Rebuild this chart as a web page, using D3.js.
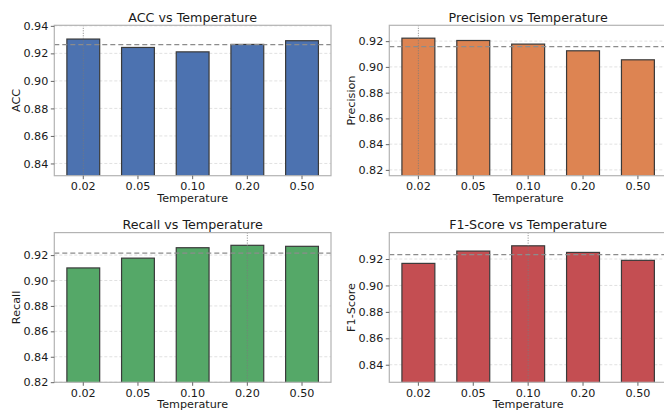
<!DOCTYPE html>
<html>
<head>
<meta charset="utf-8">
<script src="https://cdn.jsdelivr.net/npm/d3@7"></script>
<style>
  html, body { margin: 0; padding: 0; background: #ffffff; }
  svg { display: block; font-family: "DejaVu Sans", sans-serif; }
</style>
</head>
<body>
<svg id="chart" width="664" height="412"></svg>
<script>
// ---- data ----
const temperatures = ["0.02", "0.05", "0.10", "0.20", "0.50"];
const accValues = [0.9304, 0.9243, 0.9211, 0.9265, 0.9292];
const precisionValues = [0.9223, 0.9205, 0.9177, 0.9125, 0.9055];
const recallValues = [0.9099, 0.9176, 0.9258, 0.9277, 0.9269];
const f1Values = [0.9167, 0.9260, 0.9300, 0.9250, 0.9190];
const accTicks = [0.84, 0.86, 0.88, 0.90, 0.92, 0.94];
const precisionTicks = [0.82, 0.84, 0.86, 0.88, 0.90, 0.92];
const recallTicks = [0.82, 0.84, 0.86, 0.88, 0.90, 0.92];
const f1Ticks = [0.84, 0.86, 0.88, 0.90, 0.92];
const metricNames = ["ACC", "Precision", "Recall", "F1-Score"];

// ---- layout / style ----
const panels = [
  { name: metricNames[0], values: accValues, ticks: accTicks, color: "#4C72B0", x0: 54.3, x1: 331, y0: 25.3, y1: 175.7 },
  { name: metricNames[1], values: precisionValues, ticks: precisionTicks, color: "#DD8452", x0: 389.3, x1: 667, y0: 25.3, y1: 175.7 },
  { name: metricNames[2], values: recallValues, ticks: recallTicks, color: "#55A868", x0: 54.3, x1: 331, y0: 232.6, y1: 382.3 },
  { name: metricNames[3], values: f1Values, ticks: f1Ticks, color: "#C44E52", x0: 389.3, x1: 667, y0: 232.6, y1: 382.3 }
];

const svg = d3.select("#chart");
const tickFont = 11.2, labelFont = 11.2, titleFont = 12.7;

panels.forEach(p => {
  const g = svg.append("g");
  const x = d3.scaleBand().domain(temperatures).range([p.x0, p.x1])
    .paddingInner(0.4).paddingOuter(0.23);
  const lo = d3.min(p.values) - 0.09, hi = d3.max(p.values) + 0.01;
  const y = d3.scaleLinear().domain([lo, hi]).range([p.y1, p.y0]);

  const clipId = "clip-" + p.name.replace(/[^A-Za-z0-9]/g, "");
  svg.append("clipPath").attr("id", clipId).append("rect")
    .attr("x", p.x0).attr("y", p.y0).attr("width", p.x1 - p.x0).attr("height", p.y1 - p.y0);

  // grid
  g.append("g").selectAll("line").data(p.ticks).join("line")
    .attr("x1", p.x0).attr("x2", p.x1)
    .attr("y1", d => y(d)).attr("y2", d => y(d))
    .attr("stroke", "#d9d9d9").attr("stroke-width", 0.8).attr("stroke-dasharray", "3,2");

  // bars
  g.append("g").attr("clip-path", `url(#${clipId})`).selectAll("rect").data(p.values).join("rect")
    .attr("x", (d, i) => x(temperatures[i]))
    .attr("width", x.bandwidth())
    .attr("y", d => y(d))
    .attr("height", d => p.y1 - y(d) + 2)
    .attr("fill", p.color)
    .attr("stroke", "#3a3a3a").attr("stroke-width", 1.2);

  // mean line
  const mean = d3.mean(p.values);
  g.append("line").attr("x1", p.x0).attr("x2", p.x1)
    .attr("y1", y(mean)).attr("y2", y(mean))
    .attr("stroke", "#8c8c8c").attr("stroke-width", 1.2).attr("stroke-dasharray", "5,3");

  // best line
  const bestIdx = d3.maxIndex(p.values);
  const bx = x(temperatures[bestIdx]) + x.bandwidth() / 2;
  g.append("line").attr("x1", bx).attr("x2", bx).attr("y1", p.y0).attr("y2", p.y1)
    .attr("stroke", "#7a7a7a").attr("stroke-width", 0.9).attr("stroke-dasharray", "1,1.5");

  // frame
  g.append("rect").attr("x", p.x0).attr("y", p.y0)
    .attr("width", p.x1 - p.x0).attr("height", p.y1 - p.y0)
    .attr("fill", "none").attr("stroke", "#b3b3b3").attr("stroke-width", 1.2);

  // axes
  const ax = g.append("g").attr("transform", `translate(0,${p.y1})`)
    .call(d3.axisBottom(x).tickSize(3.5).tickPadding(2.8));
  const ay = g.append("g").attr("transform", `translate(${p.x0},0)`)
    .call(d3.axisLeft(y).tickValues(p.ticks).tickFormat(d3.format(".2f")).tickSize(3.5).tickPadding(2.5));
  [ax, ay].forEach(a => {
    a.select(".domain").remove();
    a.selectAll(".tick line").attr("stroke", "#555").attr("stroke-width", 0.9);
    a.selectAll(".tick text").attr("fill", "#1a1a1a").style("font-size", tickFont + "px")
      .style("font-family", "'DejaVu Sans', sans-serif");
  });

  // labels
  g.append("text").attr("x", (p.x0 + p.x1) / 2).attr("y", p.y0 - 3.5)
    .attr("text-anchor", "middle").style("font-size", titleFont + "px").attr("fill", "#1a1a1a")
    .text(`${p.name} vs Temperature`);
  g.append("text").attr("x", (p.x0 + p.x1) / 2).attr("y", p.y1 + 25.8)
    .attr("text-anchor", "middle").style("font-size", labelFont + "px").attr("fill", "#1a1a1a")
    .text("Temperature");
  const lx = p.x0 - 34.5;
  g.append("text").attr("transform", `translate(${lx},${(p.y0 + p.y1) / 2}) rotate(-90)`)
    .attr("text-anchor", "middle").style("font-size", labelFont + "px").attr("fill", "#1a1a1a")
    .text(p.name);
});
</script>
</body>
</html>
